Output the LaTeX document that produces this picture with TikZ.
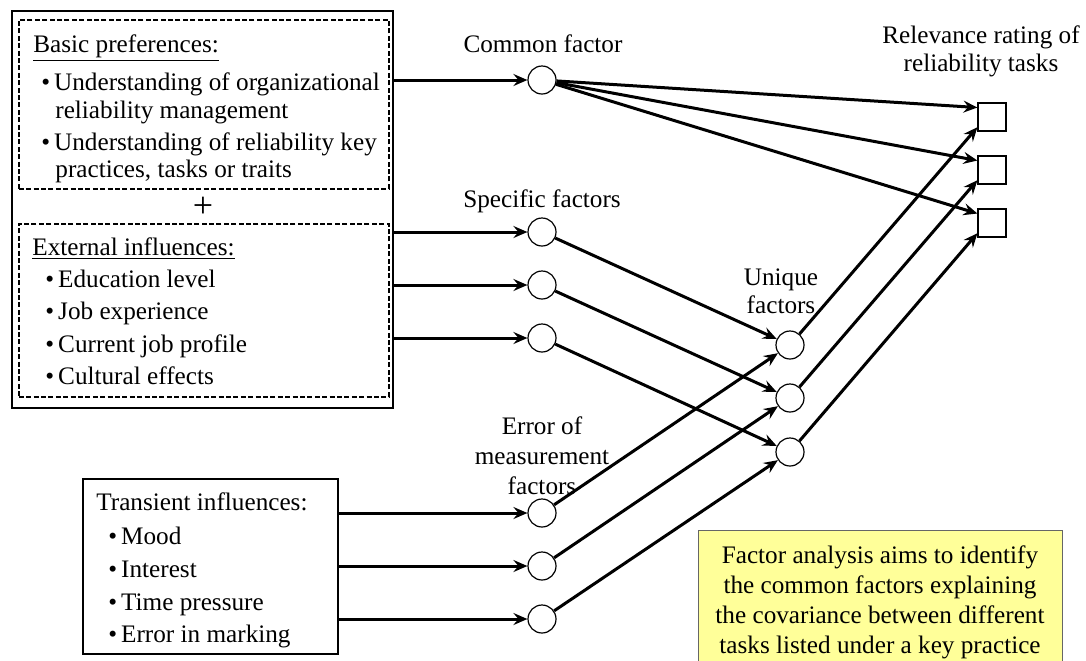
\documentclass[tikz,border=0pt]{standalone}
\usepackage{fontspec}
\setmainfont{Liberation Serif}
\usetikzlibrary{arrows.meta}
\definecolor{notefill}{RGB}{255,255,153}

\begin{document}
\begin{tikzpicture}[
    x=0.5pt, y=-0.5pt,
    every node/.style={font=\fontsize{12.6}{16.5}\selectfont},
    txt/.style={inner sep=0pt, anchor=base west},
    label/.style={inner sep=0pt, align=center, anchor=north},
    group/.style={draw, inner sep=0pt, anchor=north west, line width=0.8pt},
    subgroup/.style={draw, inner sep=0pt, anchor=north west, line width=0.8pt, dash pattern=on 2.5pt off 1.2pt},
    factor/.style={draw, circle, minimum size=14pt, inner sep=0pt, line width=0.6pt},
    rating/.style={draw, rectangle, minimum size=14pt, inner sep=0pt, line width=0.6pt},
    link/.style={line width=1.5pt, -{Stealth[length=7pt, width=6pt, inset=2.5pt]}},
]
    \useasboundingbox (0,0) rectangle (1086,660);

    % boxes on the left
    \node[group, minimum width=190.5pt, minimum height=198.5pt] (outer) at (11,10) {};
    \node[subgroup, minimum width=185pt, minimum height=84.5pt] (basic) at (18,19) {};
    \node[subgroup, minimum width=185pt, minimum height=86.5pt] (external) at (18,223) {};
    \node[group, minimum width=127.5pt, minimum height=87.5pt] (trans) at (82,478) {};

    \node[txt] (b0) at (33,52) {\underline{Basic preferences:}};
    \node[txt] (b1) at (41,90) {\textbullet\hspace{2pt}Understanding of organizational};
    \node[txt] (b2) at (55,118) {reliability management};
    \node[txt] (b3) at (41,150) {\textbullet\hspace{2pt}Understanding of reliability key};
    \node[txt] (b4) at (55,177) {practices, tasks or traits};

    \node[font=\fontsize{18}{18}\selectfont, inner sep=0pt] (plus) at (203,207) {+};

    \node[txt] (e0) at (32,255) {\underline{External influences:}};
    \foreach \i/\y/\t in {1/287/Education level, 2/319/Job experience, 3/352/Current job profile, 4/384/Cultural effects} {
        \node[txt] (e\i) at (45,\y) {\textbullet\hspace{2pt}\t};
    }

    \node[txt] (t0) at (96,510) {Transient influences:};
    \foreach \i/\y/\t in {1/544/Mood, 2/577/Interest, 3/610/Time pressure, 4/642/Error in marking} {
        \node[txt] (t\i) at (108,\y) {\textbullet\hspace{2pt}\t};
    }

    % factors
    \node[factor] (cf) at (542,80) {};
    \node[factor] (sp1) at (542,232) {};
    \node[factor] (sp2) at (542,285) {};
    \node[factor] (sp3) at (542,338) {};
    \node[factor] (em1) at (542,513) {};
    \node[factor] (em2) at (542,566) {};
    \node[factor] (em3) at (542,619) {};
    \node[factor] (uf1) at (790,345) {};
    \node[factor] (uf2) at (790,398) {};
    \node[factor] (uf3) at (790,452) {};

    \node[rating] (rr1) at (992,117) {};
    \node[rating] (rr2) at (992,170) {};
    \node[rating] (rr3) at (992,223) {};

    \node[inner sep=0pt, anchor=base] (cflabel) at (543,52) {Common factor};
    \node[inner sep=0pt, anchor=base] (splabel) at (542,207) {Specific factors};
    \node[label, font=\fontsize{12.6}{15}\selectfont] (emlabel) at (542,416) {Error of\\measurement\\factors};
    \node[label, font=\fontsize{12.6}{14}\selectfont] (uflabel) at (781,268) {Unique\\factors};
    \node[label, font=\fontsize{12.6}{14}\selectfont] (rrlabel) at (981,25) {Relevance rating of\\reliability tasks};

    \node[draw=black!60, fill=notefill, line width=0.6pt, inner sep=0pt, anchor=north west,
          minimum width=182pt, minimum height=100pt] (note) at (698,530) {};
    \node[label, font=\fontsize{12.6}{15}\selectfont] (notetext) at (880,545)
        {Factor analysis aims to identify\\the common factors explaining\\the covariance between different\\tasks listed under a key practice};

    % connections
    \draw[link] (outer.east |- cf) -- (cf);
    \foreach \i in {1,2,3} {
        \draw[link] (outer.east |- sp\i) -- (sp\i);
        \draw[link] (trans.east |- em\i) -- (em\i);
        \draw[link] (cf) -- (rr\i.147);
    }
    \foreach \i in {1,2,3} {
        \draw[link] (sp\i) -- (uf\i);
        \draw[link] (em\i) -- (uf\i);
        \draw[link] (uf\i) -- (rr\i.215);
    }

\end{tikzpicture}
\end{document}
